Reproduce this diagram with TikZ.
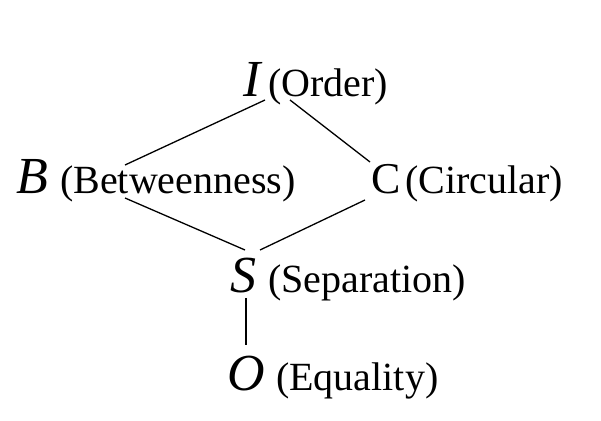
\documentclass[tikz,border=0pt]{standalone}
\usepackage{fontspec}
\setmainfont{Liberation Serif}
\begin{document}
\begin{tikzpicture}[x=1pt,y=1pt,
  lbl/.style={anchor=base west,inner sep=0pt,font=\fontsize{40}{42}\selectfont},
  let/.style={anchor=base,inner sep=0pt,font=\fontsize{52}{54}\selectfont\itshape},
  edge/.style={line width=1.3pt}]
\useasboundingbox (0,0) rectangle (601,420);
\node[let] (I) at (252,323) {I};
\node[lbl] (Il) at (268,323) {(Order)};
\node[let] (B) at (32,226) {B};
\node[lbl] (Bl) at (60,226) {(Betweenness)};
\node[anchor=base,inner sep=0pt,font=\fontsize{44}{46}\selectfont] (C) at (386,226) {C};
\node[lbl] (Cl) at (405,226) {(Circular)};
\node[let] (S) at (243,127) {S};
\node[lbl] (Sl) at (268,127) {(Separation)};
\node[let] (O) at (246,30) {O};
\node[lbl] (Ol) at (276,30) {(Equality)};
\coordinate (i1) at (265,320);
\coordinate (i2) at (290,320);
\coordinate (b1) at (125,255);
\coordinate (b2) at (125,222);
\coordinate (c1) at (370,258);
\coordinate (c2) at (365,220);
\coordinate (s1) at (245,170);
\coordinate (s2) at (260,170);
\coordinate (s3) at (246,122);
\coordinate (o1) at (246,75);
\draw[edge] (i1) -- (b1);
\draw[edge] (i2) -- (c1);
\draw[edge] (b2) -- (s1);
\draw[edge] (c2) -- (s2);
\draw[edge] (s3) -- (o1);
\end{tikzpicture}
\end{document}
